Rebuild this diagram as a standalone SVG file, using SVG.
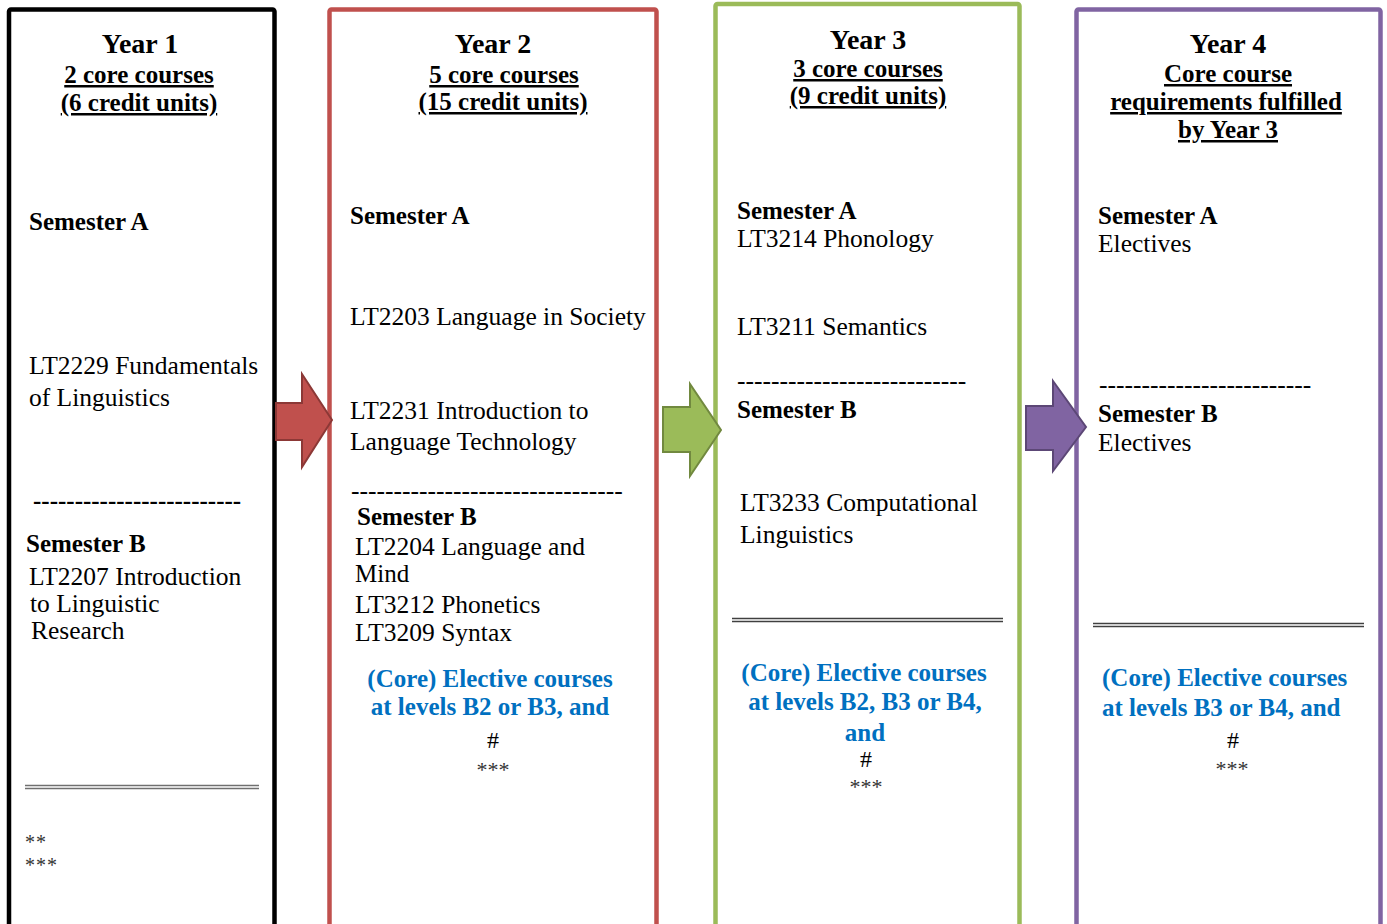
<svg xmlns="http://www.w3.org/2000/svg" width="1387" height="924" viewBox="0 0 1387 924">
<style>
text{font-family:"Liberation Serif","Times New Roman",serif;font-size:25.5px;fill:#000}
.t{font-weight:bold;font-size:28px;text-anchor:middle}
.u{font-weight:bold;font-size:25px;text-decoration:underline;text-anchor:middle}
.b{font-weight:bold;font-size:25px}
.bl{font-weight:bold;font-size:25px;fill:#0070C0}
.c{text-anchor:middle}
.s{font-size:25px}
.h{font-size:24px}
.ast{font-size:22px;fill:#333}
.ast2{font-size:20px;fill:#333;letter-spacing:1px}
.box{fill:#fff;stroke-width:4.5}
.dl{stroke-width:1.6}
</style>
<rect width="1387" height="924" fill="#fff"/>
<g id="year1">
<rect class="box" x="9" y="9.5" width="265.5" height="1000" rx="2" stroke="#000"/>
<text class="t" x="140" y="53">Year 1</text>
<text class="u" x="139" y="83">2 core courses</text>
<text class="u" x="139" y="111">(6 credit units)</text>
<text class="b" x="29" y="230">Semester A</text>
<text x="29" y="374">LT2229 Fundamentals</text>
<text x="29" y="406">of Linguistics</text>
<text class="b" x="33" y="509">-------------------------</text>
<text class="b" x="26" y="552">Semester B</text>
<text x="29" y="585">LT2207 Introduction</text>
<text x="30" y="612">to Linguistic</text>
<text x="31" y="639">Research</text>
<line class="dl" x1="25" y1="785.5" x2="259" y2="785.5" stroke="#707070"/>
<line class="dl" x1="25" y1="788.5" x2="259" y2="788.5" stroke="#707070"/>
<text class="ast2" x="25" y="849">**</text>
<text class="ast2" x="25" y="872">***</text>
</g>
<g id="year2">
<rect class="box" x="329.5" y="9.5" width="327" height="1000" rx="2" stroke="#C0504D"/>
<text class="t" x="493" y="53">Year 2</text>
<text class="u" x="504" y="83">5 core courses</text>
<text class="u" x="503" y="110">(15 credit units)</text>
<text class="b" x="350" y="224">Semester A</text>
<text x="350" y="325">LT2203 Language in Society</text>
<text x="350" y="419">LT2231 Introduction to</text>
<text x="350" y="450">Language Technology</text>
<text x="351" y="499">--------------------------------</text>
<text class="b" x="357" y="525">Semester B</text>
<text x="355" y="555">LT2204 Language and</text>
<text class="s" x="355" y="582">Mind</text>
<text x="355" y="613">LT3212 Phonetics</text>
<text x="355" y="641">LT3209 Syntax</text>
<text class="bl c" x="490" y="687">(Core) Elective courses</text>
<text class="bl c" x="490" y="715">at levels B2 or B3, and</text>
<text class="c h" x="493" y="748">#</text>
<text class="c ast" x="493" y="777">***</text>
</g>
<g id="year3">
<rect class="box" x="715.5" y="4" width="304" height="1000" rx="2" stroke="#9BBB59"/>
<text class="t" x="868" y="49">Year 3</text>
<text class="u" x="868" y="77">3 core courses</text>
<text class="u" x="868" y="104">(9 credit units)</text>
<text class="b" x="737" y="219">Semester A</text>
<text x="737" y="247">LT3214 Phonology</text>
<text x="737" y="335">LT3211 Semantics</text>
<text x="737" y="389">---------------------------</text>
<text class="b" x="737" y="418">Semester B</text>
<text x="740" y="511">LT3233 Computational</text>
<text x="740" y="543">Linguistics</text>
<line class="dl" x1="732" y1="618.5" x2="1003" y2="618.5" stroke="#404040"/>
<line class="dl" x1="732" y1="621.5" x2="1003" y2="621.5" stroke="#404040"/>
<text class="bl c" x="864" y="681">(Core) Elective courses</text>
<text class="bl c" x="865" y="710">at levels B2, B3 or B4,</text>
<text class="bl c" x="865" y="741">and</text>
<text class="c h" x="866" y="767">#</text>
<text class="c ast" x="866" y="794">***</text>
</g>
<g id="year4">
<rect class="box" x="1076.5" y="9.5" width="304" height="1000" rx="2" stroke="#8064A2"/>
<text class="t" x="1228" y="53">Year 4</text>
<text class="u" x="1228" y="82">Core course</text>
<text class="u" x="1226" y="110">requirements fulfilled</text>
<text class="u" x="1228" y="138">by Year 3</text>
<text class="b" x="1098" y="224">Semester A</text>
<text x="1098" y="252">Electives</text>
<text x="1099" y="393">-------------------------</text>
<text class="b" x="1098" y="422">Semester B</text>
<text x="1098" y="451">Electives</text>
<line class="dl" x1="1093" y1="623.5" x2="1364" y2="623.5" stroke="#404040"/>
<line class="dl" x1="1093" y1="626.5" x2="1364" y2="626.5" stroke="#404040"/>
<text class="bl" x="1102" y="686">(Core) Elective courses</text>
<text class="bl" x="1102" y="716">at levels B3 or B4, and</text>
<text class="c h" x="1233" y="748">#</text>
<text class="c ast" x="1232" y="776">***</text>
</g>
<g id="connectors" stroke-width="2" stroke-linejoin="miter">
<polygon points="276,403 302,403 302,374 332,420 302,467 302,440 276,440" fill="#C0504D" stroke="#8C3836"/>
<polygon points="663,407 690,407 690,384 721,430 690,476 690,452 663,452" fill="#9BBB59" stroke="#71893F"/>
<polygon points="1026,406 1053,406 1053,381 1086,427 1053,471 1053,450 1026,450" fill="#8064A2" stroke="#5C4776"/>
</g>
</svg>
